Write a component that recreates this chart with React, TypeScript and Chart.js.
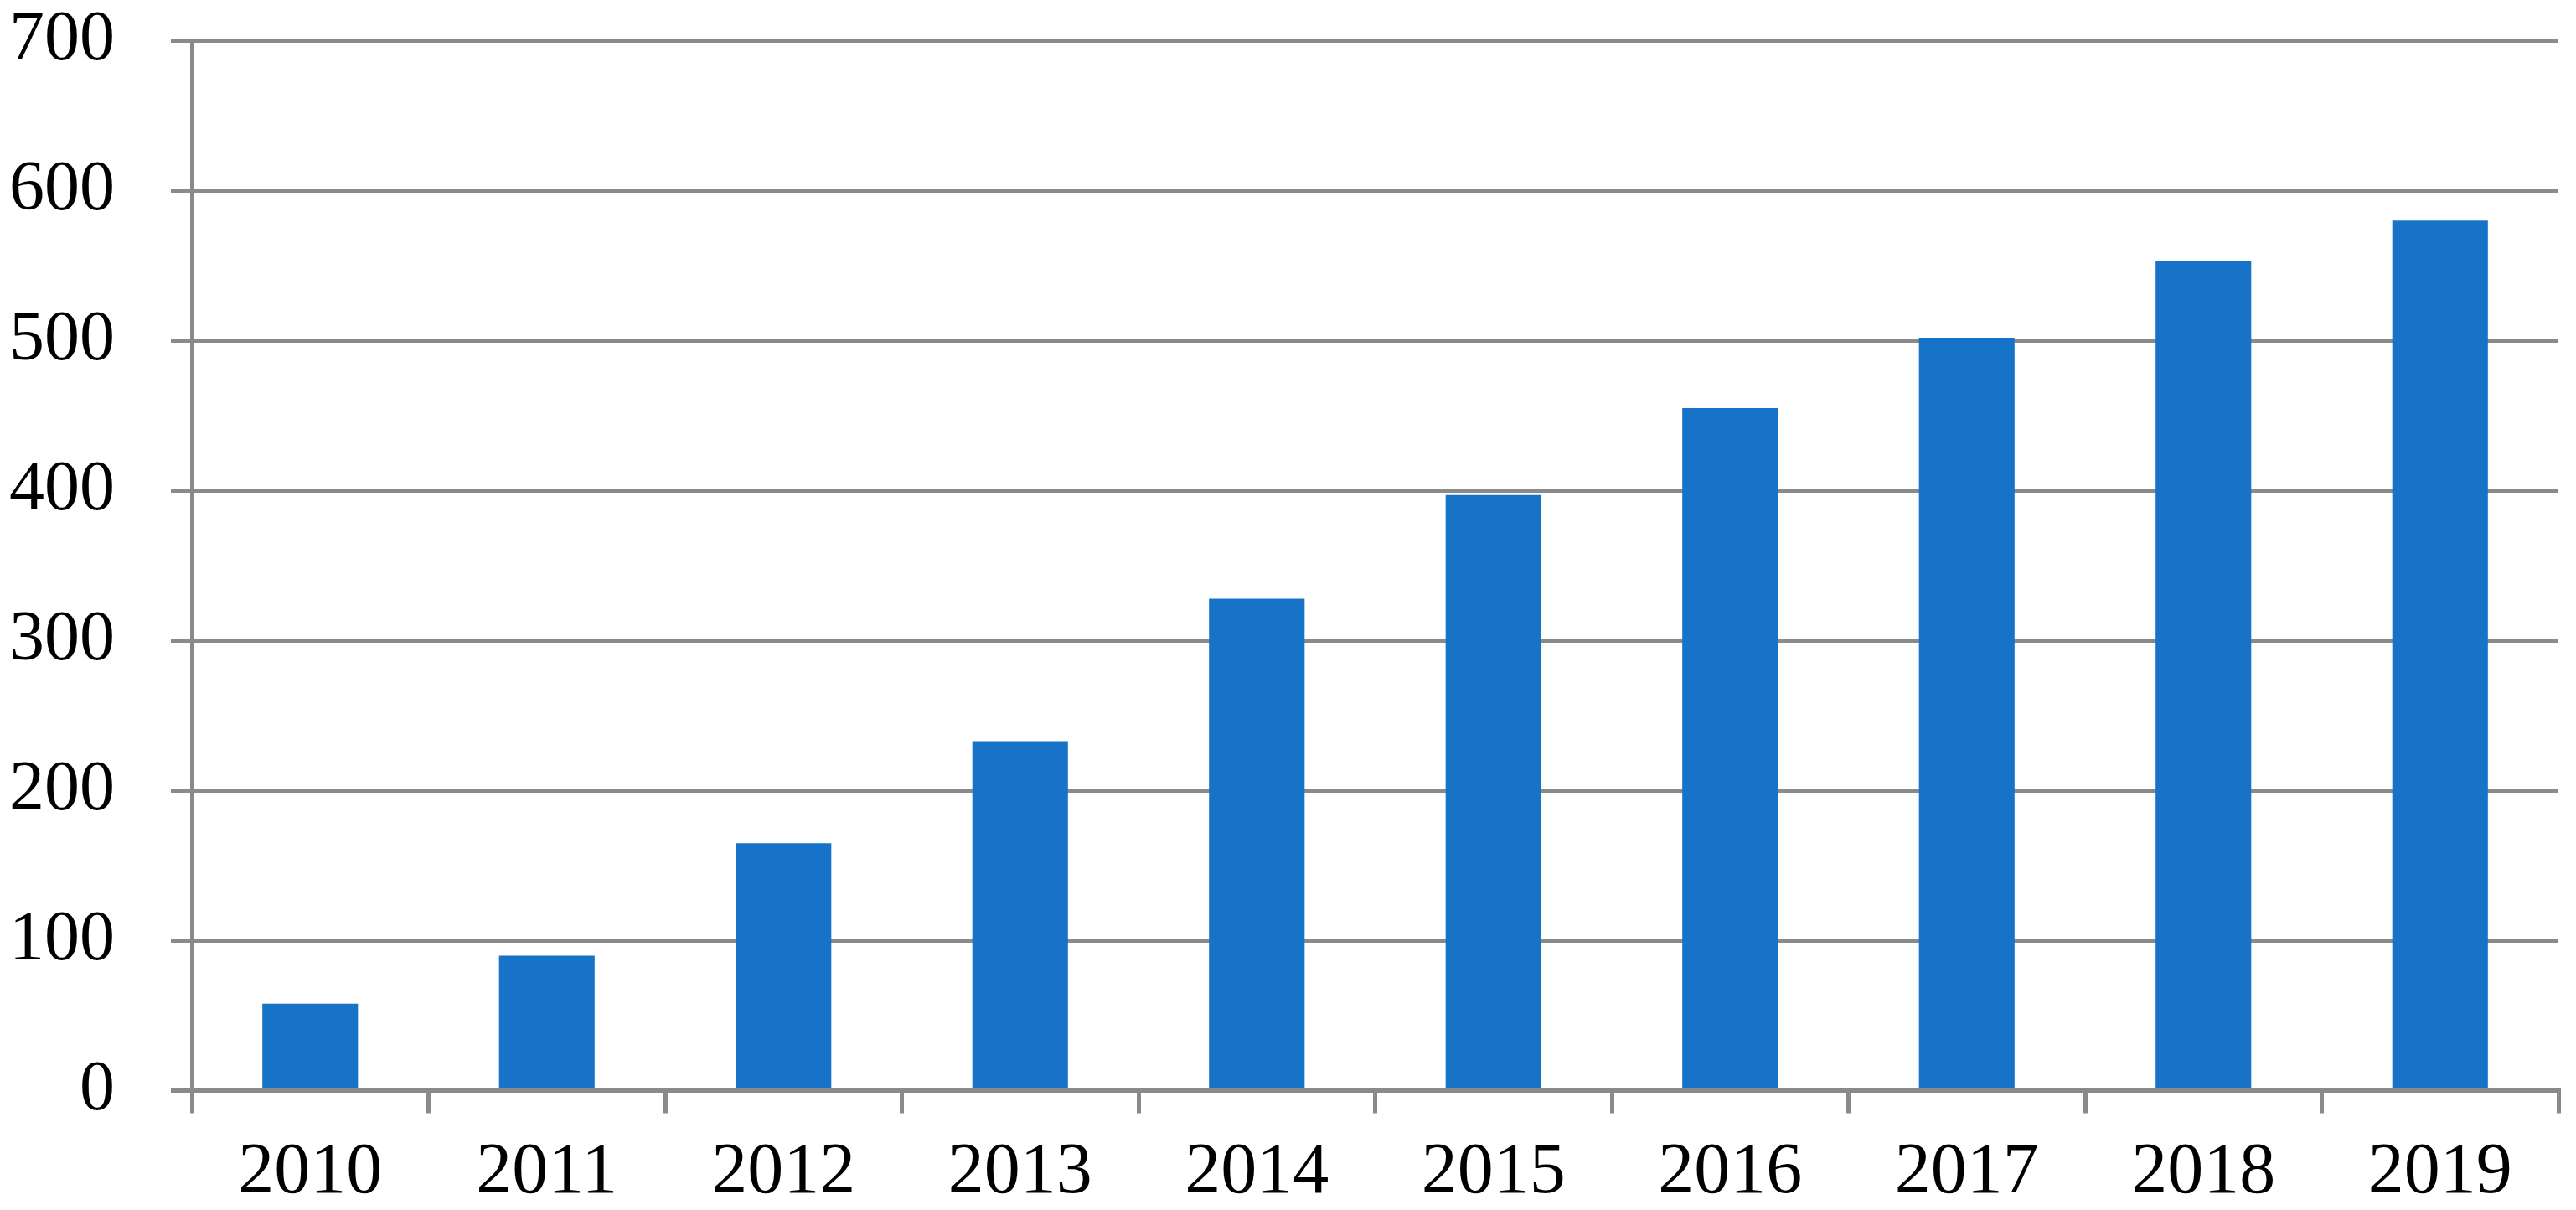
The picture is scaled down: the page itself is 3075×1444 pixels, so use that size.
import React, { useEffect, useRef } from "react";
import { Chart, registerables } from "chart.js";

Chart.register(...registerables);

const categories: string[] = ["2010", "2011", "2012", "2013", "2014", "2015", "2016", "2017", "2018", "2019"];
const seriesValues: number[] = [58, 90, 165, 233, 328, 397, 455, 502, 553, 580];
const yTickValues: number[] = [0, 100, 200, 300, 400, 500, 600, 700];

const BAR_COLOR = "#1773C8";
const AXIS_COLOR = "#8A8A8A";
const FONT_FAMILY = "'Liberation Serif', 'Times New Roman', serif";

export default function App() {
  const canvasRef = useRef<HTMLCanvasElement | null>(null);

  useEffect(() => {
    if (!canvasRef.current) return;
    const chart = new Chart(canvasRef.current, {
      type: "bar",
      data: {
        labels: categories,
        datasets: [
          {
            data: seriesValues,
            backgroundColor: BAR_COLOR,
            borderWidth: 0,
            barPercentage: 0.404,
            categoryPercentage: 1,
          },
        ],
      },
      options: {
        animation: false,
        responsive: true,
        maintainAspectRatio: false,
        layout: { padding: { top: 48.5, right: 21, bottom: 0, left: 0 } },
        plugins: {
          legend: { display: false },
          tooltip: { enabled: false },
          title: { display: false },
        },
        scales: {
          x: {
            type: "category",
            offset: true,
            grid: {
              display: true,
              offset: true,
              drawOnChartArea: false,
              drawTicks: true,
              tickLength: 27,
              color: AXIS_COLOR,
              lineWidth: 5,
            },
            border: { display: true, color: AXIS_COLOR, width: 5 },
            ticks: {
              color: "#000000",
              font: { family: FONT_FAMILY, size: 86, lineHeight: 1.2 },
              padding: 20,
              maxRotation: 0,
              autoSkip: false,
            },
            afterFit: (scale: any) => {
              scale.height = 142.5;
              scale.paddingLeft = 0;
              scale.paddingRight = 0;
            },
          },
          y: {
            min: 0,
            max: 700,
            afterBuildTicks: (scale: any) => {
              scale.ticks = yTickValues.map((v) => ({ value: v }));
            },
            grid: {
              display: true,
              drawOnChartArea: true,
              drawTicks: true,
              tickLength: 25,
              color: AXIS_COLOR,
              lineWidth: 5,
            },
            border: { display: true, color: AXIS_COLOR, width: 5 },
            ticks: {
              color: "#000000",
              font: { family: FONT_FAMILY, size: 84, lineHeight: 1.155 },
              padding: 67,
            },
            afterFit: (scale: any) => {
              scale.width = 229;
              scale.paddingTop = 0;
              scale.paddingBottom = 0;
            },
          },
        },
      },
    });
    return () => {
      chart.destroy();
    };
  }, []);

  return (
    <div
      style={{
        position: "fixed",
        left: 0,
        top: 0,
        width: "3075px",
        height: "1444px",
        background: "#ffffff",
      }}
    >
      <canvas ref={canvasRef} />
    </div>
  );
}
